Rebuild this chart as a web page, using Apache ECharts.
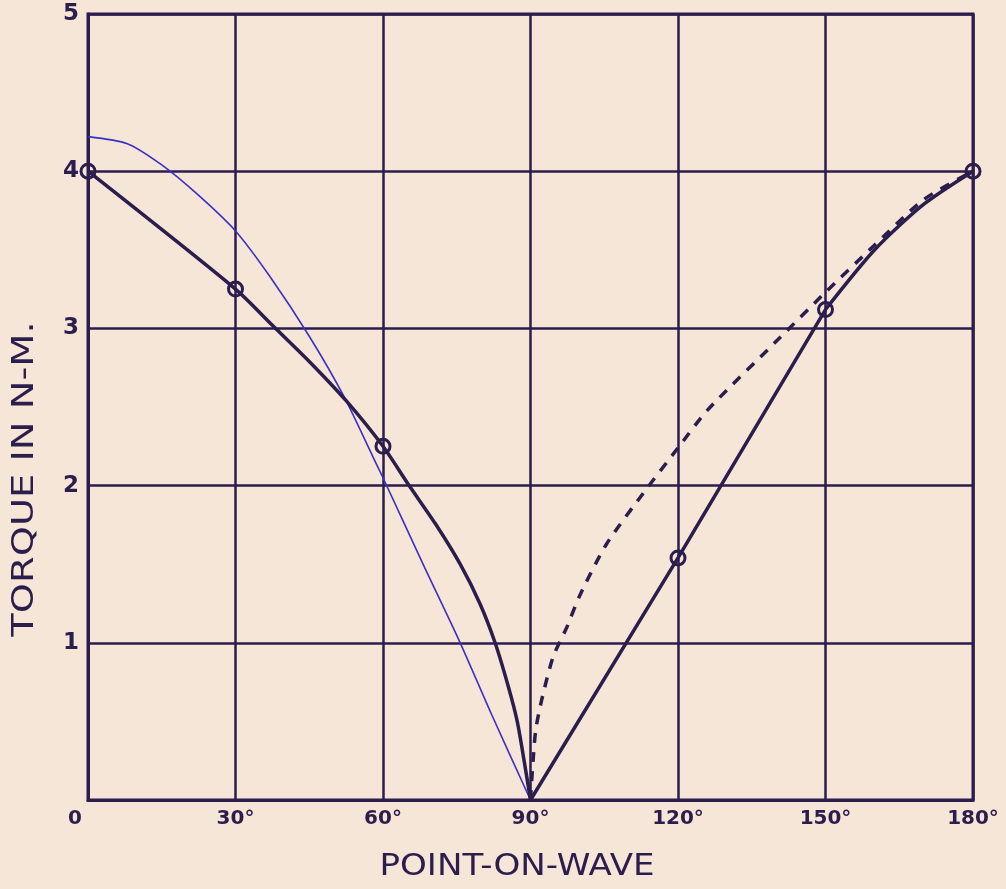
<!DOCTYPE html>
<html>
<head>
<meta charset="utf-8">
<script src="https://cdn.jsdelivr.net/npm/echarts@6/dist/echarts.min.js"></script>
<style>
html,body{margin:0;padding:0;background:#f5e6d8;}
#c{width:1006px;height:889px;}
</style>
</head>
<body>
<div id="c"></div>
<script>
// Data (degrees, torque N-m)
const xTicks = [0, 30, 60, 90, 120, 150, 180];
const yTicks = [0, 1, 2, 3, 4, 5];
const measuredPoints = [[0, 4], [30, 3.25], [60, 2.25], [120, 1.54], [150, 3.12], [180, 4]];
const thickLeft = [[0, 4], [30, 3.25], [37.5, 3.02], [45, 2.79], [52.5, 2.54], [60, 2.25], [65.1, 2.01], [70.6, 1.76], [75.7, 1.5], [79.7, 1.25], [82.8, 1], [85.5, 0.72], [87.3, 0.5], [88.7, 0.25], [90, 0]];
const thickRightStraight = [[90, 0], [120, 1.54], [150, 3.12]];
const thickRightTop = [[150, 3.12], [160, 3.5], [170, 3.79], [180, 4]];
const blueCurve = [[0, 4.22], [8, 4.175], [15, 4.04], [22, 3.86], [30, 3.62], [37, 3.33], [45, 2.95], [52, 2.57], [58, 2.18], [60, 2.05], [68, 1.51], [75.7, 1], [82, 0.55], [90, 0]];
const dashedCurve = [[90, 0], [91, 0.43], [92.3, 0.64], [94.6, 0.91], [97.4, 1.1], [100, 1.3], [105.5, 1.63], [112.9, 1.95], [120, 2.24], [126, 2.48], [140.7, 2.94], [150, 3.23], [160, 3.53], [170, 3.82], [180, 4]];
const xTitle = 'POINT-ON-WAVE';
const yTitle = 'TORQUE IN N-M.';

const ink = '#2b1d4c';
const blue = '#3b30c4';
const bg = '#f5e6d8';
const font = '"DejaVu Sans", sans-serif';

const thickStyle = {color: ink, width: 3.5};
const chart = echarts.init(document.getElementById('c'), null, {renderer: 'canvas'});
chart.setOption({
  backgroundColor: bg,
  animation: false,
  grid: {left: 88, right: 33, top: 14, bottom: 89, show: true, borderColor: ink, borderWidth: 3},
  xAxis: {
    type: 'value', min: 0, max: 180, interval: 30,
    axisLine: {show: true, lineStyle: {color: ink, width: 3}},
    axisTick: {show: false},
    splitLine: {show: true, lineStyle: {color: ink, width: 2.5}},
    axisLabel: {
      color: ink, fontFamily: font, fontWeight: 'bold', fontSize: 20, margin: 9,
      formatter: v => v === 0 ? '{z|0}' : v + '°',
      rich: {z: {color: ink, fontFamily: font, fontWeight: 'bold', fontSize: 20, padding: [0, 26, 0, 0]}}
    }
  },
  yAxis: {
    type: 'value', min: 0, max: 5, interval: 1,
    axisLine: {show: true, lineStyle: {color: ink, width: 3}},
    axisTick: {show: false},
    splitLine: {show: true, lineStyle: {color: ink, width: 2.5}},
    axisLabel: {
      color: ink, fontFamily: font, fontWeight: 'bold', fontSize: 23, margin: 9,
      formatter: v => v === 0 ? '' : String(v)
    }
  },
  graphic: [
    {type: 'text', x: 25, y: 479, rotation: Math.PI / 2, scaleX: 1.28,
     style: {text: yTitle, fill: ink, font: '30px ' + font, textAlign: 'center', textVerticalAlign: 'middle'}},
    {type: 'text', x: 517, y: 867, scaleX: 1.1,
     style: {text: xTitle, fill: ink, font: '31px ' + font, textAlign: 'center', textVerticalAlign: 'middle'}}
  ],
  series: [
    {type: 'line', data: blueCurve, smooth: 0.25, symbol: 'none',
     lineStyle: {color: blue, width: 1.6}, z: 3},
    {type: 'line', data: dashedCurve, smooth: 0.25, symbol: 'none',
     lineStyle: {color: ink, width: 3.5, type: [10, 9]}, z: 3},
    {type: 'line', data: thickLeft, smooth: 0.25, symbol: 'none',
     lineStyle: thickStyle, z: 4},
    {type: 'line', data: thickRightStraight, smooth: false, symbol: 'none',
     lineStyle: thickStyle, z: 4},
    {type: 'line', data: thickRightTop, smooth: 0.25, symbol: 'none',
     lineStyle: thickStyle, z: 4},
    {type: 'scatter', data: measuredPoints, symbol: 'circle', symbolSize: 14,
     itemStyle: {color: 'rgba(0,0,0,0)', borderColor: ink, borderWidth: 3, opacity: 1}, z: 5}
  ]
});
</script>
</body>
</html>
